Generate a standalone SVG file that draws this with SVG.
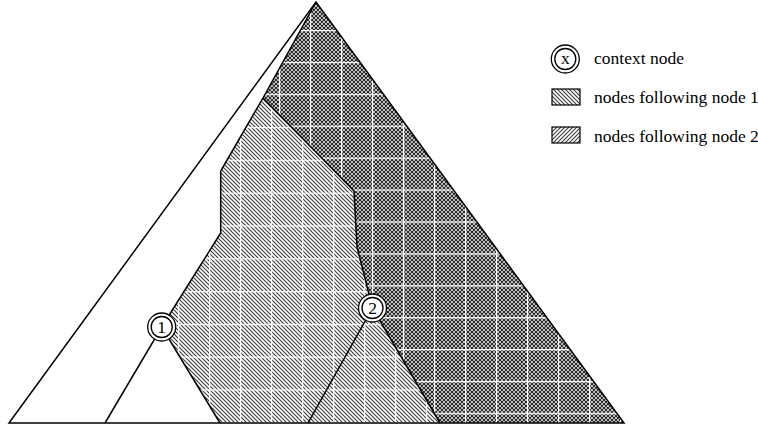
<svg xmlns="http://www.w3.org/2000/svg" width="758" height="430" viewBox="0 0 758 430">
<style>
.ln{fill:none;stroke:#000;stroke-width:1.5;stroke-linejoin:miter}
.ring{fill:#fff;stroke:#000;stroke-width:1.3}
</style>
<defs>
<pattern id="hA" patternUnits="userSpaceOnUse" width="4" height="4">
<rect width="4" height="4" fill="#fff"/>
<path d="M0,0 L4,4 M-1,3 L1,5 M3,-1 L5,1" stroke="#3a3a3a" stroke-width="1.1"/>
</pattern>
<pattern id="hB" patternUnits="userSpaceOnUse" width="4" height="4">
<rect width="4" height="4" fill="#fff"/>
<path d="M0,4 L4,0 M-1,1 L1,-1 M3,5 L5,3" stroke="#3a3a3a" stroke-width="1.1"/>
</pattern>
<pattern id="hX" patternUnits="userSpaceOnUse" width="4" height="4">
<rect width="4" height="4" fill="#fff"/>
<path d="M0,0 L4,4 M-1,3 L1,5 M3,-1 L5,1 M0,4 L4,0 M-1,1 L1,-1 M3,5 L5,3" stroke="#222" stroke-width="1.2"/>
</pattern>
<pattern id="gA" patternUnits="userSpaceOnUse" x="302" y="127" width="31" height="32.8">
<path d="M0,0.5 H31 M0.5,0 V32.8" stroke="#fff" stroke-width="1.4"/>
</pattern>
<pattern id="gB" patternUnits="userSpaceOnUse" x="310" y="30" width="31" height="31.9">
<path d="M0,0.5 H31 M0.5,0 V31.9" stroke="#fff" stroke-width="1.4"/>
</pattern>
</defs>
<rect width="758" height="430" fill="#fff"/>
<g id="region-following-1">
<polygon points="220,423 161.7,327 220.7,233 220.7,171 263,98 316,2 624,423" fill="url(#hA)"/>
<polygon points="220,423 161.7,327 220.7,233 220.7,171 263,98 316,2 624,423" fill="url(#gA)"/>
</g>
<g id="region-following-2">
<polygon points="440,423 372.5,308 357,247 354,191 263,98 316,2 624,423" fill="url(#hX)"/>
<polygon points="440,423 372.5,308 357,247 354,191 263,98 316,2 624,423" fill="url(#gB)"/>
</g>
<g id="connectors">
<polygon class="ln" points="9,423 316,2 624,423"/>
<polyline class="ln" points="316,2 263,98 220.7,171 220.7,233 161.7,327"/>
<polyline class="ln" points="263,98 354,191 357,247 372.5,308"/>
<polyline class="ln" points="105,423 161.7,327 220,423"/>
<polyline class="ln" points="308,423 372.5,308 440,423"/>
</g>
<g font-family="'Liberation Serif', 'DejaVu Serif', serif" font-size="17.5" fill="#000">
<g id="node1">
<circle class="ring" cx="161.7" cy="327" r="14"/>
<circle class="ring" cx="161.7" cy="327" r="10.5"/>
<text x="161.7" y="333" text-anchor="middle">1</text>
</g>
<g id="node2">
<circle class="ring" cx="372.5" cy="308" r="14"/>
<circle class="ring" cx="372.5" cy="308" r="10.5"/>
<text x="372.5" y="314" text-anchor="middle">2</text>
</g>
<g id="legend-context">
<circle class="ring" cx="565.3" cy="59" r="14"/>
<circle class="ring" cx="565.3" cy="59" r="10.5"/>
<text x="565.3" y="63.5" text-anchor="middle">x</text>
<text x="594" y="63.5">context node</text>
</g>
<g id="legend-following-1">
<rect x="552" y="89" width="28" height="16" fill="url(#hA)" stroke="#000" stroke-width="1.2"/>
<text x="594" y="103">nodes following node 1</text>
</g>
<g id="legend-following-2">
<rect x="552" y="127" width="28" height="16" fill="url(#hB)" stroke="#000" stroke-width="1.2"/>
<text x="594" y="142">nodes following node 2</text>
</g>
</g>
</svg>
